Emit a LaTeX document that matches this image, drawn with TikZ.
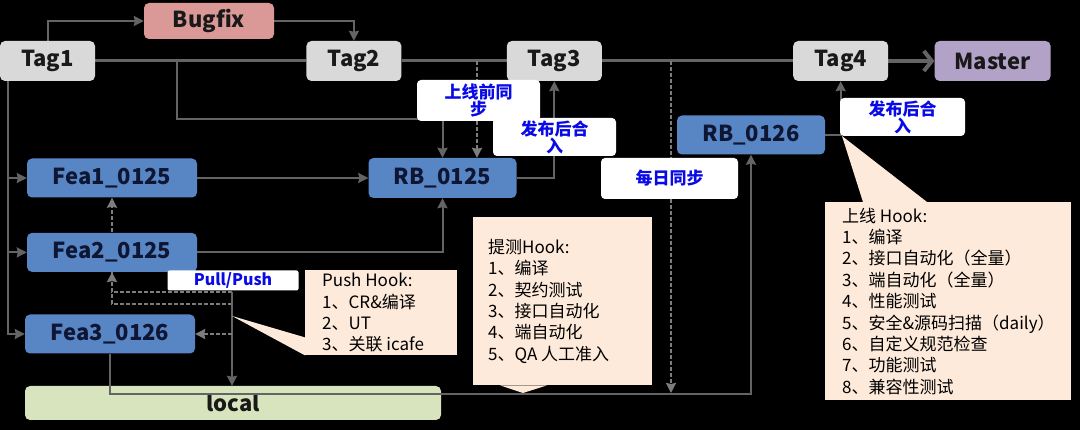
\documentclass[tikz,border=0pt]{standalone}
\usepackage{fontspec}
\setmainfont{Noto Sans CJK SC}
\usetikzlibrary{positioning, backgrounds, arrows.meta, calc}

\definecolor{taggray}{RGB}{217,217,217}
\definecolor{bugred}{RGB}{218,152,150}
\definecolor{masterpurple}{RGB}{179,162,199}
\definecolor{feablue}{RGB}{88,133,196}
\definecolor{featext}{RGB}{14,22,52}
\definecolor{localgreen}{RGB}{215,228,189}
\definecolor{hookfill}{RGB}{253,234,218}
\definecolor{linegray}{RGB}{100,100,100}
\definecolor{dashgray}{RGB}{125,125,125}
\definecolor{lblblue}{RGB}{10,10,230}

\begin{document}
\begin{tikzpicture}[
                x=1pt, y=-1pt,
                box/.style={rounded corners=5pt, inner sep=0pt, text=black!90, font=\fontsize{22}{24}\selectfont\bfseries},
                tagnode/.style={box, fill=taggray, minimum width=95pt, minimum height=40pt},
                feanode/.style={box, fill=feablue, text=featext, minimum width=170pt, minimum height=39pt},
                rbnode/.style={feanode, minimum width=148pt, minimum height=40pt},
                lblbox/.style={fill=white, rounded corners=4pt, inner sep=0pt, align=center, text=lblblue, font=\fontsize{17}{17}\selectfont\bfseries},
                hookbox/.style={fill=hookfill, inner sep=0pt, anchor=north west},
                hooktext/.style={inner sep=0pt, align=left, anchor=west, font=\fontsize{17}{21.4}\selectfont},
                line/.style={draw=linegray, line width=2pt},
                trunk/.style={line, line width=3pt},
                arr/.style={line, -{Stealth[length=10pt, width=10pt, inset=1pt]}},
                dasharr/.style={arr, draw=dashgray, dash pattern=on 4pt off 2pt},
            ]
            \useasboundingbox (0,0) rectangle (1080,430);

            % === tags on the trunk ===
            \node[tagnode] (Tag1) at (47.5,61) {Tag1};
            \node[tagnode, fill=bugred, minimum width=130pt, minimum height=36pt] (Bugfix) at (209,21) {Bugfix};
            \node[tagnode, right=211pt of Tag1] (Tag2) {Tag2};
            \node[tagnode, right=105pt of Tag2] (Tag3) {Tag3};
            \node[tagnode, right=191pt of Tag3] (Tag4) {Tag4};
            \node[tagnode, fill=masterpurple, minimum width=116pt, right=46pt of Tag4] (Master) {Master};

            % === branches ===
            \node[feanode] (Fea1) at (112,178) {Fea1\_0125};
            \node[feanode, below=35pt of Fea1] (Fea2) {Fea2\_0125};
            \node[feanode] (Fea3) at (110,334) {Fea3\_0126};
            \node[rbnode] (RB0125) at (442.5,178) {RB\_0125};
            \node[rbnode, minimum height=39pt] (RB0126) at (751,135) {RB\_0126};
            \node[box, fill=localgreen, minimum width=416pt, minimum height=34pt] (local) at (233,403) {local};

            \coordinate (s1) at (177,61);
            \coordinate (s2) at (477,61);
            \coordinate (s3) at (671,61);
            \coordinate (dailyend) at (671,393);
            \coordinate (t1l) at ($(Tag1.south west)+(8,0)$);
            \coordinate (pp) at (232,292);
            \coordinate (pp2) at (232,304);

            \draw[arr] (Fea3.south) -- ++(0,40) -| (RB0126.south);

            % === labels ===
            \node[lblbox, minimum width=123pt, minimum height=41pt] (presync) at (478.5,100.5) {上线前同\\步};
            \node[lblbox, minimum width=123pt, minimum height=38pt] (merge1) at (554.5,137) {发布后合\\入};
            \node[lblbox, minimum width=137pt, minimum height=41pt] (daily) at (669.5,178.5) {每日同步};
            \node[lblbox, minimum width=125pt, minimum height=38pt] (merge2) at (902.5,117) {发布后合\\入};
            \node[lblbox, minimum width=131pt, minimum height=20pt, rounded corners=2pt,
                font=\fontsize{16}{16}\selectfont\bfseries] (pullpush) at (233,280.5) {Pull/Push};

            % === hooks ===
            \coordinate (pushtip) at (232,316);
            \coordinate (testtip) at (523,393);
            \coordinate (launchtip) at (842,136);
            \node[hookbox, minimum width=152pt, minimum height=85pt] (pushhook) at (305,270) {};
            \fill[hookfill] (pushtip) -- ($(pushhook.south west)+(0,-18)$) -- (pushhook.south west) -- cycle;
            \node[hooktext] (pushtxt) at ($(pushhook.west)+(17,0)$) {Push Hook:\\1、CR\&编译\\2、UT\\3、关联 icafe};

            \node[hookbox, minimum width=179pt, minimum height=168pt] (testhook) at (473,217) {};
            \fill[hookfill] ($(testhook.south west)+(27,0)$) -- (testtip) -- ($(testhook.south west)+(74,0)$) -- cycle;
            \node[hooktext] (testtxt) at ($(testhook.west)+(15,0)$) {提测Hook:\\1、编译\\2、契约测试\\3、接口自动化\\4、端自动化\\5、QA 人工准入};

            \node[hookbox, minimum width=246pt, minimum height=198pt] (launchhook) at (825,202) {};
            \fill[hookfill] (launchtip) -- ($(launchhook.north west)+(38,0)$) -- ($(launchhook.north west)+(102,0)$) -- cycle;
            \node[hooktext] (launchtxt) at ($(launchhook.west)+(17,0)$) {上线 Hook:\\1、编译\\2、接口自动化（全量）\\3、端自动化（全量）\\4、性能测试\\5、安全\&源码扫描（daily）\\6、自定义规范检查\\7、功能测试\\8、兼容性测试};

            % === connectors ===
            \begin{scope}[on background layer]
                \fill[black] (0,0) rectangle (1080,430);
                \draw[trunk] (Tag1.east) -- (Tag2.west);
                \draw[trunk] (Tag2.east) -- (Tag3.west);
                \draw[trunk] (Tag3.east) -- (Tag4.west);
                \draw[trunk, line width=4pt, -{Straight Barb[length=8pt, width=20pt]}] (Tag4.east) -- (Master.west);
                \draw[arr] (Tag1.north) |- (Bugfix.west);
                \draw[arr] (Bugfix.east) -| (Tag2.north);

                \draw[arr] (t1l) |- (Fea3.west);
                \foreach \f in {Fea1, Fea2} {
                    \draw[arr] (t1l |- \f.west) -- (\f.west);
                }

                \draw[arr] (s1) -- ++(0,58) -| (RB0125.north);
                \draw[dasharr] (s2) -- (s2 |- RB0125.north);
                \draw[arr] (Fea1.east) -- (RB0125.west);
                \draw[arr] (Fea2.east) -| (RB0125.south);
                \draw[arr] (RB0125.east) -| (Tag3.south);
                \draw[dasharr] (s3) -- (dailyend);
                \draw[arr] (RB0126.east) -| (Tag4.south);

                \draw[dasharr] (pp) -| (Fea2.south);
                \draw[dasharr] (pp2) -| (Fea1.south);
                \draw[arr] (pp) -- (pp |- local.north);
                \draw[dasharr] (Fea3.east -| pp) -- (Fea3.east);
            \end{scope}
\end{tikzpicture}
\end{document}
